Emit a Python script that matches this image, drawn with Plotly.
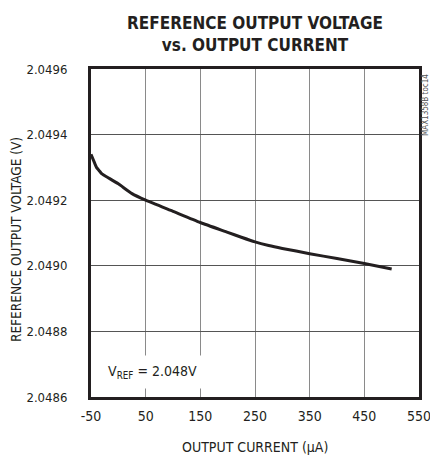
import plotly.graph_objects as go

current_uA = [-50, -45, -40, -35, -30, -20, 0, 25, 50, 100, 150, 200, 225, 250, 275, 300, 350, 400, 450, 500]
vref_V = [2.04934, 2.04932, 2.04930, 2.04929, 2.04928, 2.04927, 2.04925, 2.04922, 2.04920,
          2.049166, 2.049132, 2.049102, 2.049087, 2.049073, 2.049062, 2.049053, 2.049037,
          2.049022, 2.049007, 2.04899]

x_ticks = [-50, 50, 150, 250, 350, 450, 550]
y_ticks = [2.0486, 2.0488, 2.0490, 2.0492, 2.0494, 2.0496]

FONT = "Liberation Sans Narrow, DejaVu Sans Condensed, Arial Narrow, sans-serif"
INK = "#231f20"

fig = go.Figure()
fig.add_trace(go.Scatter(x=current_uA, y=vref_V, mode="lines",
                         line=dict(color=INK, width=3, shape="spline", smoothing=0.5),
                         showlegend=False, hoverinfo="skip"))

L, R, T, B = 91, 11, 69, 60
PW, PH = 430 - L - R, 457 - T - B

fig.update_layout(
    width=430, height=457,
    margin=dict(l=L, r=R, t=T, b=B),
    paper_bgcolor="white", plot_bgcolor="white",
    font=dict(family=FONT, size=14, color=INK),
    title=dict(text="<b>REFERENCE OUTPUT VOLTAGE<br>vs. OUTPUT CURRENT</b>",
               x=0.5, xref="paper", xanchor="center",
               y=1 - 29 / 457, yref="container", yanchor="middle",
               font=dict(family=FONT, size=17, color=INK)),
)
fig.update_xaxes(range=[-50, 550], tickvals=x_ticks, ticktext=[str(v) for v in x_ticks],
                 showgrid=True, gridcolor="#8a8a8a", gridwidth=1.2, zeroline=False,
                 showline=True, linecolor=INK, linewidth=3, mirror=True,
                 ticks="", ticklen=0, ticklabeloverflow="allow", ticklabelstandoff=4,
                 automargin=False)
fig.update_yaxes(range=[2.0486, 2.0496], tickvals=y_ticks, tickformat=".4f",
                 tickfont=dict(size=13),
                 showgrid=True, gridcolor="#555555", gridwidth=1.2, zeroline=False,
                 showline=True, linecolor=INK, linewidth=3, mirror=True,
                 ticks="", ticklen=0, ticklabelstandoff=18, automargin=False)

# axis titles
fig.add_annotation(x=0.5, y=-(447 - (T + PH)) / PH, xref="paper", yref="paper",
                   xanchor="center", yanchor="middle", text="OUTPUT CURRENT (µA)",
                   showarrow=False, font=dict(size=14, color=INK))
fig.add_annotation(x=-(L - 16) / PW, y=(T + PH - 240) / PH, xref="paper", yref="paper",
                   xanchor="center", yanchor="middle", text="REFERENCE OUTPUT VOLTAGE (V)",
                   textangle=-90, showarrow=False, font=dict(size=13.5, color=INK))

fig.add_annotation(x=-33, y=2.048675, xref="x", yref="y", xanchor="left", yanchor="middle",
                   text="V<sub>REF</sub> = 2.048V", showarrow=False,
                   bgcolor="white", borderpad=7, font=dict(size=14, color=INK))

fig.add_annotation(x=(425 - L) / PW, y=(T + PH - 105) / PH, xref="paper", yref="paper",
                   xanchor="center", yanchor="middle", text="MAX1358B toc14",
                   showarrow=False, textangle=-90, font=dict(size=8, color="#555555"))

fig.write_html("out.html", config={"displayModeBar": False},
               post_script="document.body.style.margin='0';")
